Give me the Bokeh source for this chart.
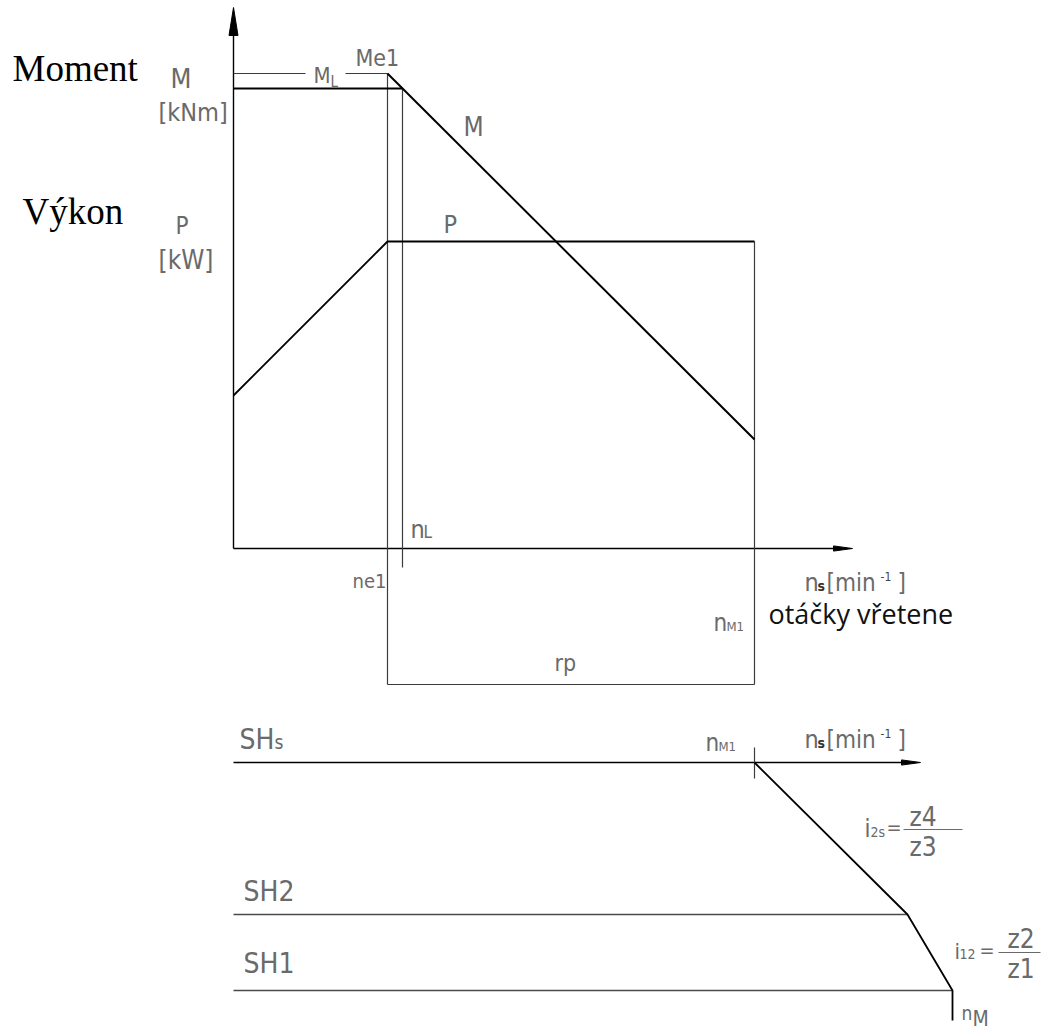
from bokeh.plotting import figure
from bokeh.models import Range1d
from bokeh.core.properties import value
from bokeh.embed import file_html
from bokeh.resources import INLINE

# ---------------------------------------------------------------------------
# Diagram values (drawing units, x along the spindle-speed axis n_s,
# y counted downward from the top edge of the sheet)
# ---------------------------------------------------------------------------

# upper diagram: characteristic spindle speeds
n_origin = 233      # origin of the M / P axes
n_e1 = 387          # n_e1  - corner speed (Me1)
n_L = 402           # n_L   - speed at which the load torque is reached
n_M1 = 754          # n_M1  - top speed of the range
n_axis_end = 852    # tip of the n_s axis

# upper diagram: levels
y_axis_top = 7      # tip of the M / P axis
y_ML = 73           # load torque M_L (= Me1)
y_M = 88            # torque plateau M
y_P = 241           # constant power P
y_P_start = 395     # power at n = 0
y_M_end = 439       # torque at n_M1
y_axis = 548        # n_s axis
y_nL_end = 567      # lower end of the n_L line
y_rp = 684          # dimension line of the range r_p

# torque characteristic M(n)
torque_flat_n = [n_origin, n_L]
torque_flat_y = [y_M, y_M]
torque_fall_n = [n_e1, n_M1]
torque_fall_y = [y_ML, y_M_end]

# power characteristic P(n)
power_n = [n_origin, n_e1, n_M1]
power_y = [y_P_start, y_P, y_P]

# lower diagram: gearbox steps
steps = ["SHs", "SH2", "SH1"]
step_y = [762, 914, 990]
step_end_n = [920, 907, 952]           # SHs is the speed axis itself
gear_path_n = [n_M1, 907, 952, 952]    # i2s, i12 and the n_M drop
gear_path_y = [762, 914, 990, 1020]
tick_M1_y = [747, 778]

# ---------------------------------------------------------------------------
# Styling
# ---------------------------------------------------------------------------
CAD_FONT = "'Liberation Sans Narrow', 'DejaVu Sans Condensed', 'Liberation Sans', sans-serif"
CAD_GRAY = "#6a6a6a"
THIN = "#3c3c3c"

p = figure(width=1048, height=1030,
           x_range=Range1d(0, 1048), y_range=Range1d(1030, 0),
           x_axis_type=None, y_axis_type=None,
           output_backend="svg", toolbar_location=None,
           min_border=0, outline_line_color=None)
p.background_fill_color = "white"
p.border_fill_color = "white"


def label(x, base, s, size, font=CAD_FONT, color=CAD_GRAY, style="normal", align="left"):
    # place a text by its baseline; the glyph is anchored at its middle
    p.text(x=[x], y=[base - 0.33 * size], text=[s], text_font=value(font),
           text_font_size=value(f"{size}px"), text_color=color,
           text_font_style=style, text_baseline="middle", text_align=align)


def arrow_head(tip_x, tip_y, direction, length, half_w):
    # filled narrow triangle at the end of an axis
    if direction == "up":
        xs = [tip_x, tip_x - half_w, tip_x + half_w]
        ys = [tip_y, tip_y + length, tip_y + length]
    else:  # right
        xs = [tip_x, tip_x - length, tip_x - length]
        ys = [tip_y, tip_y - half_w, tip_y + half_w]
    p.patch(xs, ys, fill_color="black", line_color="black", line_width=1)


# ---------------- upper diagram ----------------
# axes
p.line([n_origin, n_origin], [y_axis, y_axis_top + 20], line_color="black", line_width=1.4)
arrow_head(n_origin, y_axis_top, "up", 28, 4.5)
p.line([n_origin, n_axis_end - 15], [y_axis, y_axis], line_color="black", line_width=1.4)
arrow_head(n_axis_end, y_axis, "right", 19, 2.6)

# load torque M_L, broken around its label
ml_gap = (305, 345)
p.multi_line([[n_origin, ml_gap[0]], [ml_gap[1], n_e1]], [[y_ML, y_ML], [y_ML, y_ML]],
             line_color=THIN, line_width=1.2)

# construction verticals
p.line([n_e1, n_e1], [y_ML, y_rp], line_color=THIN, line_width=1.2)
p.line([n_L, n_L], [y_M, y_nL_end], line_color=THIN, line_width=1.2)
p.line([n_M1, n_M1], [y_P, y_rp], line_color=THIN, line_width=1.2)
# range r_p
p.line([n_e1, n_M1], [y_rp, y_rp], line_color=THIN, line_width=1.2)

# torque and power characteristics
p.line(torque_flat_n, torque_flat_y, line_color="black", line_width=2.2)
p.line(torque_fall_n, torque_fall_y, line_color="black", line_width=2.0)
p.line(power_n, power_y, line_color="black", line_width=1.8)

# titles
label(12, 80, "Moment", 37, font="'Liberation Serif', serif", color="black")
label(22, 223, "Výkon", 37, font="'Liberation Serif', serif", color="black")
label(768, 622, "otáčky vřetene", 27, font="'Open Sans', sans-serif", color="#111111")

# axis units
label(170, 87, "M", 27)
label(158, 120, "[kNm]", 25)
label(175, 233, "P", 24)
label(158, 268, "[kW]", 26)

# curve labels
label(355, 65, "Me1", 23)
label(313, 82, "M", 22)
label(330, 86, "L", 15)
label(463, 135, "M", 26)
label(443, 232, "P", 25)

# speed labels
label(410, 537, "n", 25)
label(423, 537, "L", 17)
label(352, 587, "ne1", 20)
label(713, 630, "n", 24)
label(726, 630, "M1", 13)
label(554, 670, "rp", 23)


def ns_unit(x, base):
    # n_s[min^-1]
    label(x, base, "n", 25)
    label(x + 13, base, "s", 14, color="#333333", style="bold")
    label(x + 22, base, "[min", 24)
    label(x + 76, base - 10, "-1", 12, color="#444444")
    label(x + 93, base, "]", 24)


ns_unit(804, 590)

# ---------------- lower diagram ----------------
for name, yy, end in zip(steps, step_y, step_end_n):
    if name == "SHs":
        p.line([n_origin, end - 15], [yy, yy], line_color="black", line_width=1.4)
        arrow_head(end, yy, "right", 19, 2.6)
    else:
        p.line([n_origin, end], [yy, yy], line_color="#4a4a4a", line_width=1.5)

p.line([n_M1, n_M1], tick_M1_y, line_color=THIN, line_width=1.2)
p.line(gear_path_n, gear_path_y, line_color="black", line_width=1.8)

label(239, 748, "SH", 28)
label(274, 748, "s", 19)
label(243, 900, "SH2", 28)
label(243, 972, "SH1", 28)

label(705, 750, "n", 24)
label(718, 750, "M1", 13)
ns_unit(804, 747)

# ratio i2s = z4 / z3
label(864, 836, "i", 24)
label(870, 836, "2s", 14)
label(886, 833, "=", 20)
p.line([903, 962], [829, 829], line_color=CAD_GRAY, line_width=1.2)
label(909, 825, "z4", 26)
label(909, 855, "z3", 26)

# ratio i12 = z2 / z1
label(954, 958, "i", 22)
label(959, 958, "12", 14)
label(979, 956, "=", 20)
p.line([998, 1040], [952, 952], line_color=CAD_GRAY, line_width=1.2)
label(1007, 947, "z2", 26)
label(1007, 977, "z1", 26)

# n_M at the end of the lowest step
label(961, 1019, "n", 19)
label(972, 1025, "M", 21)

html = file_html(p, INLINE, title="Moment a výkon")
html = html.replace("<head>", "<head><style>html,body{margin:0;padding:0;}</style>", 1)
open("out.html", "w").write(html)
